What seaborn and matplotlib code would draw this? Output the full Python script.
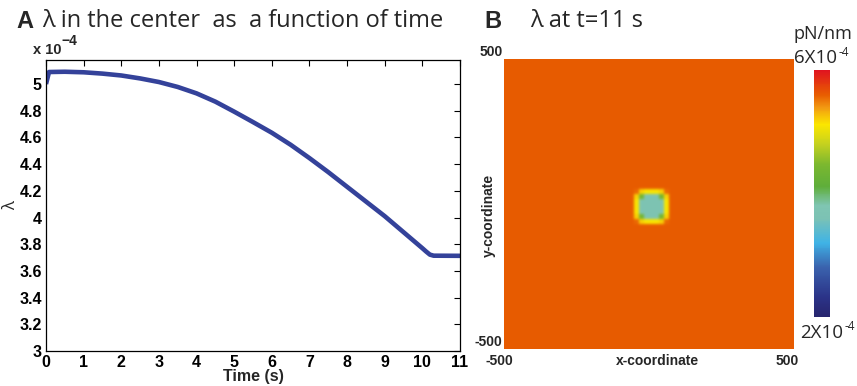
import numpy as np
import pandas as pd
import seaborn as sns
import matplotlib
matplotlib.use("Agg")
from matplotlib import pyplot as plt
from matplotlib.colors import LinearSegmentedColormap

# Panel A: lambda in the centre vs time (values in units of 1e-4)
time_s = [0, 0.08, 0.5, 1, 1.5, 2, 2.5, 3, 3.5, 4, 4.5, 5, 5.5, 6, 6.5, 7,
          7.5, 8, 8.5, 9, 9.5, 10, 10.1, 10.2, 10.3, 11]
lam_center = [5.00, 5.09, 5.092, 5.088, 5.078, 5.064, 5.042, 5.015, 4.978,
              4.93, 4.868, 4.793, 4.715, 4.635, 4.545, 4.445, 4.34, 4.23,
              4.12, 4.01, 3.89, 3.77, 3.745, 3.722, 3.714, 3.713]
x_ticks = list(range(0, 12))
y_ticks = [3, 3.2, 3.4, 3.6, 3.8, 4, 4.2, 4.4, 4.6, 4.8, 5]
y_tick_labels = ["3", "3.2", "3.4", "3.6", "3.8", "4", "4.2", "4.4", "4.6", "4.8", "5"]

# Panel B: lambda field at t=11 s (units of 1e-4 pN/nm)
grid_n = 116
lam_background = 5.6
patch_row, patch_col = 52, 52
lam_patch = [
    [5.55, 5.2, 5.1, 5.1, 5.1, 5.2, 5.55],
    [5.2, 4.4, 3.72, 3.72, 3.72, 4.4, 5.2],
    [5.1, 3.72, 3.72, 3.72, 3.72, 3.72, 5.1],
    [5.1, 3.72, 3.72, 3.72, 3.72, 3.72, 5.1],
    [5.1, 3.72, 3.72, 3.72, 3.72, 3.72, 5.1],
    [5.2, 4.4, 3.72, 3.72, 3.72, 4.4, 5.2],
    [5.55, 5.2, 5.1, 5.1, 5.1, 5.2, 5.55],
]
cbar_min, cbar_max = 2, 6

sns.set_style("white")
plt.rcParams["font.family"] = ["Liberation Sans", "DejaVu Sans"]

W, H = 857, 386
fig = plt.figure(figsize=(W / 100, H / 100), dpi=100)


def px(x, y):
    return x / W, 1 - y / H


title_font = ["Open Sans", "DejaVu Sans"]
line_color = "#34429a"

# ---------------- Panel A ----------------
ax1 = fig.add_axes([46 / W, 1 - 351 / H, 414 / W, 291 / H])
df = pd.DataFrame({"time": time_s, "lam": lam_center})
sns.lineplot(data=df, x="time", y="lam", ax=ax1, color=line_color,
             linewidth=3.3, solid_capstyle="butt")
ax1.set_xlim(0, 11)
ax1.set_ylim(3, 5.18)
ax1.set_xticks(x_ticks)
ax1.set_xticklabels([str(t) for t in x_ticks], fontweight="bold", fontsize=11.5)
ax1.set_yticks(y_ticks)
ax1.set_yticklabels(y_tick_labels, fontweight="bold", fontsize=11.5)
ax1.tick_params(direction="in", top=True, right=True, length=4, width=0.8,
                pad=3, colors="black")
for s in ax1.spines.values():
    s.set_color("black")
    s.set_linewidth(0.9)
ax1.set_xlabel("Time (s)", fontweight="bold", fontsize=11.5, labelpad=-1)
ax1.set_ylabel("λ", fontsize=12, family=title_font)
ax1.yaxis.set_label_coords(-0.066, 0.5)

fig.text(*px(33, 50), "x 10", fontweight="bold", fontsize=10.5, va="center")
fig.text(*px(61, 41), "−4", fontweight="bold", fontsize=10, va="center")

fig.text(*px(16, 21), "A", fontweight="bold", fontsize=17, va="center")
fig.text(*px(42, 21), "λ in the center  as  a function of time",
         fontsize=17, va="center", family=title_font)

# ---------------- Panel B ----------------
field = np.full((grid_n, grid_n), lam_background)
p = np.kron(np.array(lam_patch), np.ones((2, 2)))
field[patch_row:patch_row + p.shape[0], patch_col:patch_col + p.shape[1]] = p

cmap = LinearSegmentedColormap.from_list("lam", [
    (0.00, "#27256e"), (0.08, "#2b3388"), (0.20, "#3a62ad"),
    (0.30, "#3fb3e6"), (0.40, "#7cc2b4"), (0.45, "#7fc5b2"),
    (0.53, "#5fae3a"), (0.62, "#7cb82f"), (0.70, "#c5d11f"),
    (0.78, "#fbe600"), (0.85, "#f29a12"), (0.90, "#e85d00"),
    (1.00, "#e0141f")])

ax2 = fig.add_axes([504 / W, 1 - 349 / H, 290 / W, 290 / H])
im = ax2.imshow(field, cmap=cmap, vmin=cbar_min, vmax=cbar_max,
                extent=(-500, 500, -500, 500), interpolation="bicubic",
                interpolation_stage="rgba", aspect="auto")
ax2.set_xticks([])
ax2.set_yticks([])
for s in ax2.spines.values():
    s.set_visible(False)

cax = fig.add_axes([814 / W, 1 - 317 / H, 16 / W, 247 / H])
cb = fig.colorbar(im, cax=cax)
cb.set_ticks([])
cb.outline.set_visible(False)

tick_kw = dict(fontweight="bold", fontsize=10, va="center")
fig.text(*px(503, 52), "500", ha="right", **tick_kw)
fig.text(*px(502, 342), "-500", ha="right", **tick_kw)
fig.text(*px(499, 361), "-500", ha="center", **tick_kw)
fig.text(*px(787, 361), "500", ha="center", **tick_kw)
fig.text(*px(657, 361), "x-coordinate", ha="center", **tick_kw)
fig.text(*px(489, 215), "y-coordinate", ha="center", rotation=90, **tick_kw)

fig.text(*px(484, 21), "B", fontweight="bold", fontsize=17, va="center")
fig.text(*px(530, 21), "λ at t=11 s", fontsize=17, va="center", family=title_font)

fig.text(*px(823, 34), "pN/nm", fontsize=13, ha="center", va="center", family=title_font)
fig.text(*px(794, 58), "6X10", fontsize=13.5, ha="left", va="center", family=title_font)
fig.text(*px(839, 52), "-4", fontsize=8.5, ha="left", va="center", family=title_font)
fig.text(*px(800, 333), "2X10", fontsize=13.5, ha="left", va="center", family=title_font)
fig.text(*px(845, 327), "-4", fontsize=8.5, ha="left", va="center", family=title_font)

fig.savefig("out.png", dpi=100)
